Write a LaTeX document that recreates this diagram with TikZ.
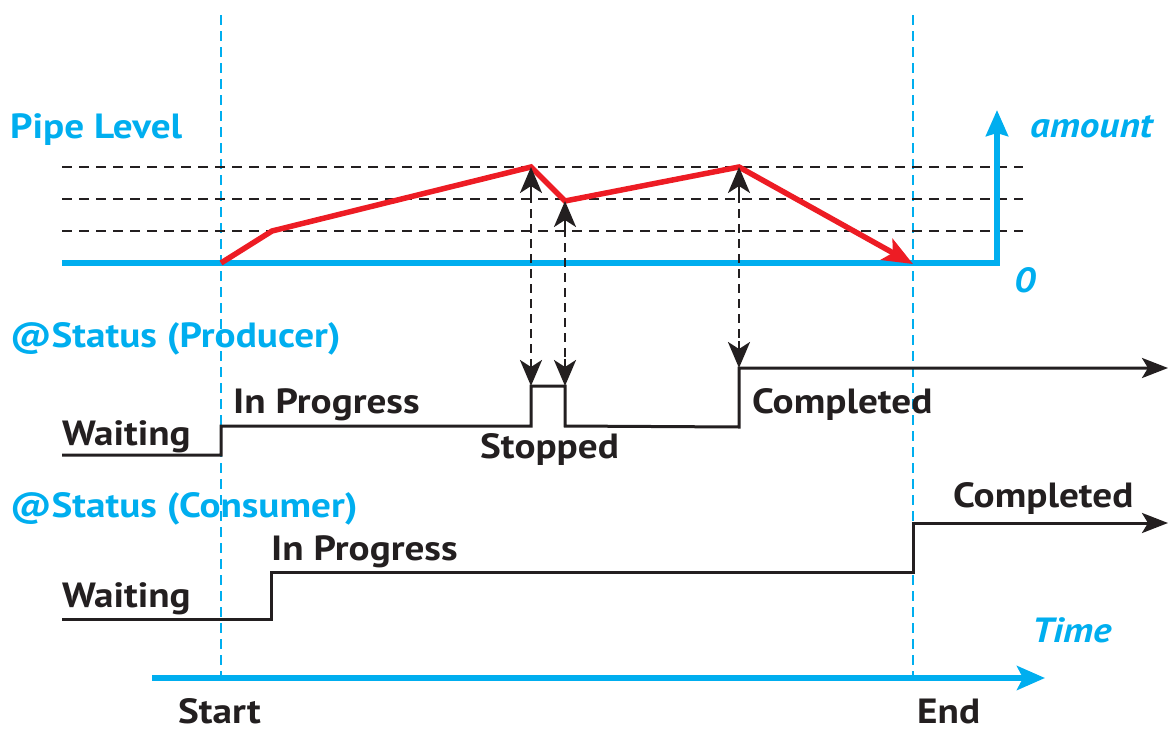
\documentclass[tikz,border=0pt]{standalone}
\usepackage{fontspec}
\setmainfont{PT Sans}[FakeStretch=1.12]
\usetikzlibrary{arrows.meta}
\definecolor{cy}{HTML}{00AEEF}
\definecolor{rd}{HTML}{ED1C24}
\definecolor{bk}{HTML}{231F20}
\begin{document}
\begin{tikzpicture}[x=1pt,y=-1pt,
  lbl/.style={font=\fontsize{35}{40}\selectfont\bfseries, text=bk, inner sep=0pt, anchor=base west},
  clbl/.style={lbl, text=cy},
  ilbl/.style={clbl, font=\fontsize{35}{40}\selectfont\bfseries\itshape},
  guide/.style={cy, line width=2.4pt, dash pattern=on 10pt off 6pt},
  level/.style={bk, line width=2pt, dash pattern=on 10pt off 7pt},
  axis/.style={cy, line width=5.5pt},
  pipe/.style={rd, line width=5.5pt, line join=miter},
  state/.style={bk, line width=3pt},
  link/.style={bk, line width=2.8pt, dash pattern=on 9pt off 6pt},
  linktip/.style={bk, line width=2.8pt, -{Stealth[length=26pt,width=22pt,inset=7pt]}}
]
\useasboundingbox (0,0) rectangle (1168,731);

% guides
\coordinate (s0) at (221,15); \coordinate (s1) at (221,678);
\coordinate (e0) at (913,15); \coordinate (e1) at (913,678);
\draw[guide] (s0) -- (s1);
\draw[guide] (e0) -- (e1);

% level lines
\coordinate (l1a) at (62,167); \coordinate (l1b) at (1023,167);
\coordinate (l2a) at (62,199); \coordinate (l2b) at (1023,199);
\coordinate (l3a) at (62,231); \coordinate (l3b) at (1023,231);
\draw[level] (l1a) -- (l1b);
\draw[level] (l2a) -- (l2b);
\draw[level] (l3a) -- (l3b);

% amount axis
\coordinate (b0) at (62,263); \coordinate (b1) at (997,263); \coordinate (b2) at (997,110);
\draw[axis, -{Stealth[length=26pt,width=22pt,inset=3pt]}] (b0) -- (b1) -- (b2);

% pipe level
\coordinate (p0) at (221,263);
\coordinate (p1) at (272,231);
\coordinate (p2) at (531,167);
\coordinate (p3) at (565,201);
\coordinate (p4) at (739,167);
\coordinate (p5) at (913,264);
\draw[pipe, -{Stealth[length=30pt,width=24pt,inset=7pt]}] (p0) -- (p1) -- (p2) -- (p3) -- (p4) -- (p5);

% producer
\coordinate (q0) at (62,455);
\coordinate (q1) at (221,455);
\coordinate (q2) at (221,426);
\coordinate (q3) at (531,426);
\coordinate (q4) at (531,386);
\coordinate (q5) at (565,386);
\coordinate (q6) at (565,426);
\coordinate (q7) at (739,427);
\coordinate (q8) at (739,368);
\coordinate (q9) at (1168,368);
\draw[state, -{Stealth[length=26pt,width=20pt,inset=6pt]}] (q0) -- (q1) -- (q2) -- (q3) -- (q4) -- (q5) -- (q6) -- (q7) -- (q8) -- (q9);

% consumer
\coordinate (c0) at (62,619);
\coordinate (c1) at (271,619);
\coordinate (c2) at (271,572);
\coordinate (c3) at (913,572);
\coordinate (c4) at (913,523);
\coordinate (c5) at (1168,523);
\draw[state, -{Stealth[length=26pt,width=20pt,inset=6pt]}] (c0) -- (c1) -- (c2) -- (c3) -- (c4) -- (c5);

% links (dashed shafts, solid tips)
\coordinate (k1a) at (531,194); \coordinate (k1b) at (531,359);
\coordinate (k2a) at (565,228); \coordinate (k2b) at (565,359);
\coordinate (k3a) at (739,194); \coordinate (k3b) at (739,341);
\draw[link] (k1a) -- (k1b);
\draw[link] (k2a) -- (k2b);
\draw[link] (k3a) -- (k3b);
\draw[linktip] (k1a) -- (p2);
\draw[linktip] (k1b) -- (q4);
\draw[linktip] (k2a) -- (p3);
\draw[linktip] (k2b) -- (q5);
\draw[linktip] (k3a) -- (p4);
\draw[linktip] (k3b) -- (q8);

% time axis
\coordinate (t0) at (152,678); \coordinate (t1) at (1045,678);
\draw[axis, -{Stealth[length=28pt,width=24pt,inset=6pt]}] (t0) -- (t1);

% labels
\node[clbl] (pipelevel) at (10,138) {Pipe Level};
\node[ilbl] (amount) at (1030,137) {amount};
\node[ilbl] (zero) at (1014,292) {0};
\node[clbl] (prod) at (10,347) {@Status (Producer)};
\node[lbl] (pwait) at (62,445) {Waiting};
\node[lbl] (pprog) at (233,413) {In Progress};
\node[lbl] (pstop) at (480,458) {Stopped};
\node[lbl] (pcomp) at (752,413) {Completed};
\node[clbl] (cons) at (10,517) {@Status (Consumer)};
\node[lbl] (cwait) at (62,607) {Waiting};
\node[lbl] (cprog) at (271,560) {In Progress};
\node[lbl] (ccomp) at (953,507) {Completed};
\node[ilbl] (time) at (1032,642) {Time};
\node[lbl] (start) at (178,723) {Start};
\node[lbl] (endl) at (917,723) {End};
\end{tikzpicture}
\end{document}
